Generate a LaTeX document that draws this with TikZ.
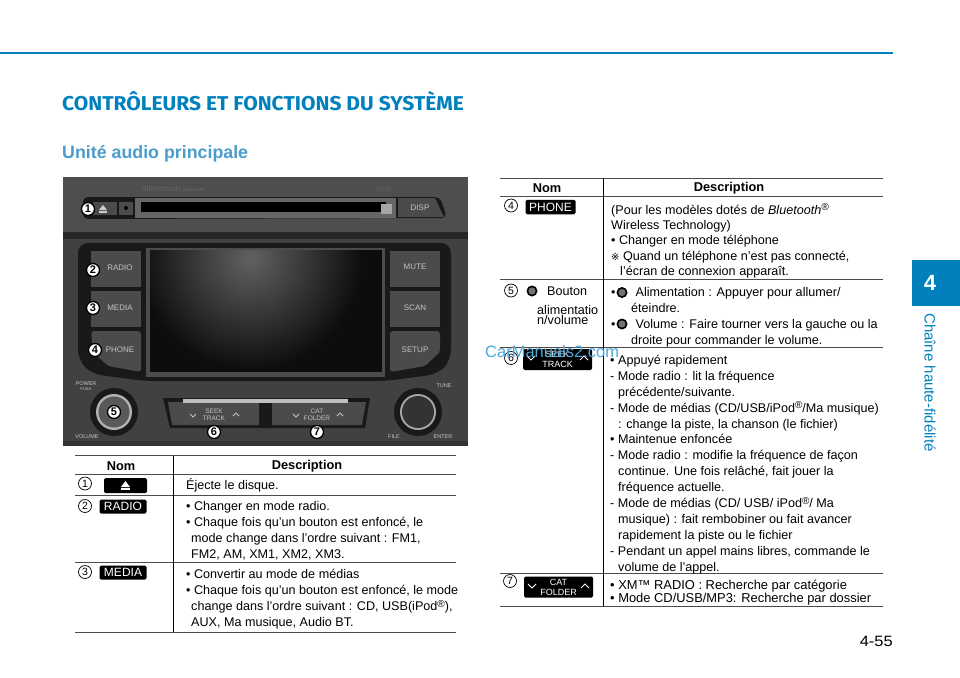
\documentclass[tikz,border=0pt]{standalone}
\usepackage{fontspec}
\setmainfont{Liberation Sans}
\newfontfamily\titlefont{Fira Sans}
\newfontfamily\symbfont{DejaVu Sans}
\definecolor{hblue}{HTML}{0081BD}
\definecolor{hsub}{HTML}{4A9CCB}
\definecolor{wmark}{HTML}{4AA8DC}
\definecolor{panel}{HTML}{414141}
\definecolor{panelup}{HTML}{4E4E4E}
\definecolor{panelkey}{HTML}{4B4B4B}
\definecolor{panelink}{HTML}{191919}
\definecolor{panelfont}{HTML}{C4C4C4}
\tikzset{
	desc/.style={anchor=north west, align=left, inner sep=0pt, font=\fontsize{12.6}{15.9}\selectfont},
	head/.style={inner sep=0pt, font=\fontsize{12.8}{14}\selectfont\bfseries},
	pill/.style={fill=black, rounded corners=1.5pt, inner sep=0pt, text=white, font=\fontsize{12}{12}\selectfont},
	pilltwo/.style={pill, align=center, minimum width=69pt, minimum height=21pt, font=\fontsize{9}{9.8}\selectfont},
	rowline/.style={line width=0.9pt, color=black!70},
	numcirc/.style={circle, draw=black, line width=0.7pt, minimum size=13pt, inner sep=0pt, font=\fontsize{10.5}{10}\selectfont},
	numphoto/.style={circle, fill=white, draw=black, line width=1.3pt, minimum size=13pt, inner sep=0pt, font=\fontsize{11}{10}\selectfont\bfseries},
	keylabel/.style={inner sep=0pt, text=panelfont, font=\fontsize{8}{8}\selectfont},
	ticklabel/.style={inner sep=0pt, text=panelfont, font=\fontsize{5.5}{6}\selectfont},
	chevron/.style={white, line width=0.8pt}
}
\def\knobicon(#1,#2){\fill[black] (#1,#2) circle (5.5); \fill[black!55] (#1,#2) circle (3.6);}
\def\regmark{\raisebox{3.5pt}{\fontsize{10}{10}\selectfont ®}}
\begin{document}
\begin{tikzpicture}[x=1pt, y=-1pt]
	\useasboundingbox (0,0) rectangle (960,677);
	%%%%% PAGE %%%%%
	\fill[hblue] (0,52) rectangle (893,54.5);
	\fill[hblue] (912,260) rectangle (960,306);
	\node[text=white, inner sep=0pt, font=\fontsize{22}{22}\selectfont\bfseries] (tabnum) at (930,283) {4};
	\node[rotate=-90, text=hblue, inner sep=0pt, font=\fontsize{15}{15}\selectfont] (tabname) at (930,382.5) {Chaîne haute-fidélité};
	\node[anchor=west, text=hblue, inner sep=0pt, xscale=1.05, transform shape, font=\titlefont\fontsize{20}{24}\selectfont\bfseries] (title) at (62,101.5) {CONTRÔLEURS ET FONCTIONS DU SYSTÈME};
	\node[anchor=west, text=hsub, inner sep=0pt, font=\fontsize{17.8}{20}\selectfont\bfseries] (subtitle) at (62,153.5) {Unité audio principale};
	\node[anchor=east, inner sep=0pt, xscale=1.1, transform shape, font=\fontsize{15}{15}\selectfont] (pagenum) at (893,641) {4-55};

	%%%%% AUDIO UNIT %%%%%
	\fill[panel] (63,177) rectangle (468,446);
	\fill[panelup] (63,177) rectangle (468,232);
	\fill[black!85] (63,232) rectangle (468,239);
	\fill[black!80] (63,441) rectangle (468,446);
	\fill[panelink, rounded corners=5pt] (83,197) -- (440,197) -- (447,218) -- (83,219) -- cycle;
	\fill[panelkey] (93,202) rectangle (117,215);
	\fill[white!80!black] (99,211) -- (107,211) -- (107,212.5) -- (99,212.5) -- cycle;
	\fill[white!80!black] (103,205) -- (107,210) -- (99,210) -- cycle;
	\fill[panelkey] (119,202) rectangle (133,215);
	\fill[black] (126,208) circle (2);
	\fill[black!60] (135,198) rectangle (396,218);
	\fill[black] (141,202) rectangle (386,212);
	\fill[black!35] (381,204) rectangle (392,214);
	\fill[panelkey] (398,198) -- (435,198) -- (444,217) -- (398,217) -- cycle;
	\node[keylabel] (disp) at (420,208) {DISP};
	\node[inner sep=0pt, text=black!60, font=\fontsize{8.5}{9}\selectfont] (brand) at (173,188) {dimension \fontsize{5}{5}\selectfont Bluetooth};
	\node[inner sep=0pt, text=black!60, font=\fontsize{5.5}{6}\selectfont] (logo) at (384,189) {[[xxx]]};
	% screen surround
	\fill[panelink, rounded corners=10pt] (78,243) -- (451,243) -- (451,360) -- (438,374) -- (385,381) -- (145,381) -- (92,374) -- (78,360) -- cycle;
	\fill[panelkey] (91,251) rectangle (141,287);
	\fill[panelkey] (91,291) rectangle (141,327);
	\fill[panelkey, rounded corners=3pt] (91,331) -- (141,331) -- (141,372) -- (108,366) -- (93,352) -- cycle;
	\fill[panelkey] (390,251) rectangle (440,287);
	\fill[panelkey] (390,291) rectangle (440,327);
	\fill[panelkey, rounded corners=3pt] (390,331) -- (440,331) -- (440,352) -- (425,366) -- (390,372) -- cycle;
	\fill[black!70] (146,248) rectangle (385,377);
	\fill[black!95] (150,250) rectangle (382,372);
	\begin{scope}
		\clip (150,250) rectangle (370,372);
		\shade[inner color=black!62, outer color=black!95] (250,258) circle (112);
	\end{scope}
	\node[keylabel] (radiokey) at (120,268) {RADIO};
	\node[keylabel] (mediakey) at (120,308) {MEDIA};
	\node[keylabel] (phonekey) at (120,350) {PHONE};
	\node[keylabel] (mutekey) at (415,267) {MUTE};
	\node[keylabel] (scankey) at (415,308) {SCAN};
	\node[keylabel] (setupkey) at (415,350) {SETUP};
	% knobs and seek keys
	\fill[black!90] (114,412) circle (24);
	\fill[black!30] (114,412) circle (18);
	\fill[black!65] (114,412) circle (15.5);
	\fill[black!90] (418,412) circle (24);
	\fill[black!35] (418,412) circle (18);
	\fill[black!80] (418,412) circle (16);
	\fill[panelink] (163,398) -- (370,398) -- (365,428) -- (170,428) -- cycle;
	\fill[panelkey] (168,402) -- (259,402) -- (259,425) -- (172,425) -- cycle;
	\fill[panelkey] (272,402) -- (366,402) -- (362,425) -- (272,425) -- cycle;
	\fill[black!25] (183,399) rectangle (348,402.5);
	\draw[panelfont, line width=0.8pt] (190,414) -- (193,417) -- (196,414);
	\draw[panelfont, line width=0.8pt] (233,416) -- (236,413) -- (239,416);
	\draw[panelfont, line width=0.8pt] (293,414) -- (296,417) -- (299,414);
	\draw[panelfont, line width=0.8pt] (337,416) -- (340,413) -- (343,416);
	\node[ticklabel, align=center, font=\fontsize{6.5}{6.5}\selectfont] (seekkey) at (214,415) {SEEK\\TRACK};
	\node[ticklabel, align=center, font=\fontsize{6.5}{6.5}\selectfont] (catkey) at (317,415) {CAT\\FOLDER};
	\node[ticklabel, align=center] (power) at (86,386) {POWER\\[-1pt]{\fontsize{4}{4}\selectfont PUSH}};
	\node[ticklabel] (volume) at (87,436.5) {VOLUME};
	\node[ticklabel] (tune) at (444,386) {TUNE};
	\node[ticklabel] (filelabel) at (394,437) {FILE};
	\node[ticklabel] (enter) at (443,437) {ENTER};
	\node[numphoto] (pa) at (88,209) {1};
	\node[numphoto] (pb) at (93,270) {2};
	\node[numphoto] (pc) at (93,308) {3};
	\node[numphoto] (pd) at (95,350) {4};
	\node[numphoto] (pe) at (114,412) {5};
	\node[numphoto] (pf) at (214,432) {6};
	\node[numphoto] (pg) at (317,432) {7};

	%%%%% LEFT TABLE %%%%%
	\draw[rowline] (75,455.5) -- (456,455.5);
	\draw[rowline] (75,474.5) -- (456,474.5);
	\draw[rowline] (75,495) -- (456,495);
	\draw[rowline] (75,562.5) -- (456,562.5);
	\draw[rowline] (75,632) -- (456,632);
	\draw[line width=0.9pt] (173,455.5) -- (173,632);
	\node[head] (lnom) at (121,466) {Nom};
	\node[head] (ldesc) at (307,466.5) {Description};
	\node[numcirc] (ta) at (85,483.5) {1};
	\node[pill, minimum width=43pt, minimum height=15pt] (eject) at (125.5,485.5) {};
	\fill[white] (125.5,481) -- (130,487) -- (121,487) -- cycle;
	\fill[white] (121,488) rectangle (130,490);
	\node[numcirc] (tb) at (85,506) {2};
	\node[pill, minimum width=47pt, minimum height=14pt] (radio) at (123,506.5) {RADIO};
	\node[numcirc] (tc) at (85,572) {3};
	\node[pill, minimum width=47pt, minimum height=14pt] (media) at (123,572.5) {MEDIA};
	\node[desc] (da) at (186,478.5) {Éjecte le disque.};
	\node[desc] (db) at (186,501.5) {• Changer en mode radio.\\• Chaque fois qu’un bouton est enfoncé, le\\\hspace*{5pt}mode change dans l’ordre suivant : FM1,\\\hspace*{5pt}FM2, AM, XM1, XM2, XM3.};
	\node[desc] (dc) at (186,569.5) {• Convertir au mode de médias\\• Chaque fois qu’un bouton est enfoncé, le mode\\\hspace*{5pt}change dans l’ordre suivant : CD, USB(iPod\regmark),\\\hspace*{5pt}AUX, Ma musique, Audio BT.};

	%%%%% RIGHT TABLE %%%%%
	\draw[rowline] (500,178) -- (883,178);
	\draw[rowline] (500,196) -- (883,196);
	\draw[rowline] (500,279.5) -- (883,279.5);
	\draw[rowline] (500,347.5) -- (883,347.5);
	\draw[rowline] (500,573) -- (883,573);
	\draw[rowline] (500,606) -- (883,606);
	\draw[line width=0.9pt] (603,178) -- (603,606);
	\node[head] (rnom) at (547,188) {Nom};
	\node[head] (rdesc) at (729,188.5) {Description};
	\node[numcirc] (td) at (511,205.5) {4};
	\node[pill, minimum width=50pt, minimum height=14.5pt] (phone) at (550.5,207) {PHONE};
	\node[numcirc] (te) at (511,290.5) {5};
	\knobicon(532,291)
	\node[anchor=west, inner sep=0pt, font=\fontsize{12.6}{14}\selectfont] (bouton) at (547,291.5) {Bouton};
	\node[anchor=north west, align=left, inner sep=0pt, font=\fontsize{12.6}{9.5}\selectfont] (alim) at (537,305.5) {alimentatio\\n/volume};
	\node[numcirc] (tf) at (511,358) {6};
	\node[pilltwo] (seek) at (557.5,359.5) {SEEK\\TRACK};
	\draw[chevron] (527,356) -- (531,360) -- (535,356);
	\draw[chevron] (580,360) -- (584,356) -- (588,360);
	\node[numcirc] (tg) at (510,581) {7};
	\node[pilltwo] (cat) at (558.5,587) {CAT\\FOLDER};
	\draw[chevron] (528,584) -- (532,588) -- (536,584);
	\draw[chevron] (581,588) -- (585,584) -- (589,588);
	\node[desc] (dd) at (611,203.5) {(Pour les modèles dotés de \textit{Bluetooth}\textit{\regmark}\\[-0.5pt]Wireless Technology)\\[-0.5pt]• Changer en mode téléphone\\[-0.5pt]{\symbfont\fontsize{10}{10}\selectfont ※} Quand un téléphone n’est pas connecté,\\[-0.5pt]\hspace*{9pt}l’écran de connexion apparaît.};
	\node[desc] (de) at (611,287) {•\hspace*{20pt}Alimentation : Appuyer pour allumer/\\\hspace*{20pt}éteindre.\\•\hspace*{20pt}Volume : Faire tourner vers la gauche ou la\\\hspace*{20pt}droite pour commander le volume.};
	\knobicon(622,292.5)
	\knobicon(622,324)
	\node[desc] (df) at (610,355) {• Appuyé rapidement\\- Mode radio : lit la fréquence\\\hspace*{8pt}précédente/suivante.\\- Mode de médias (CD/USB/iPod\regmark/Ma musique)\\\hspace*{8pt}: change la piste, la chanson (le fichier)\\• Maintenue enfoncée\\- Mode radio : modifie la fréquence de façon\\\hspace*{8pt}continue. Une fois relâché, fait jouer la\\\hspace*{8pt}fréquence actuelle.\\- Mode de médias (CD/ USB/ iPod\regmark/ Ma\\\hspace*{8pt}musique) : fait rembobiner ou fait avancer\\\hspace*{8pt}rapidement la piste ou le fichier\\- Pendant un appel mains libres, commande le\\\hspace*{8pt}volume de l’appel.};
	\node[desc, font=\fontsize{12.9}{12.8}\selectfont] (dg) at (610,579.5) {• XM™ RADIO : Recherche par catégorie\\• Mode CD/USB/MP3: Recherche par dossier};
	\node[anchor=west, inner sep=0pt, text=wmark, font=\fontsize{16.5}{17}\selectfont] (carmark) at (485,352) {CarManuals2.com};
\end{tikzpicture}
\end{document}
